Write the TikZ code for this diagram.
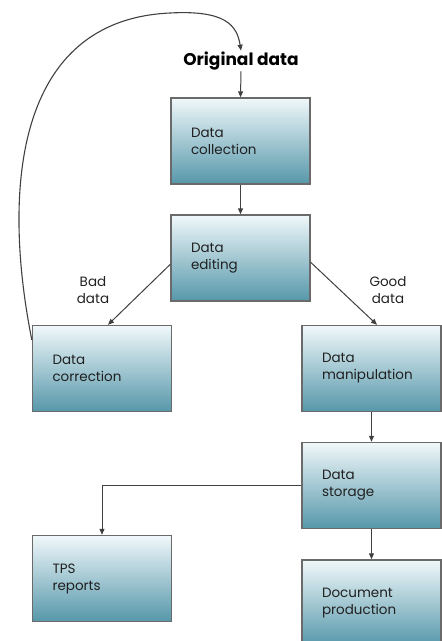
\documentclass[tikz,border=0pt]{standalone}
\usepackage{fontspec}
\setmainfont{Poppins}
\usetikzlibrary{arrows.meta,calc}
\definecolor{boxtop}{HTML}{F0F8FA}
\definecolor{boxmid}{HTML}{B9DCE4}
\definecolor{boxbot}{HTML}{5697AA}
\definecolor{boxline}{HTML}{6A6A6A}
\definecolor{arrline}{HTML}{404040}
\definecolor{txt}{HTML}{202020}
\tikzset{
  procbox/.style={draw=boxline, line width=1.4pt, top color=boxtop, middle color=boxmid, bottom color=boxbot,
    minimum width=139pt, minimum height=86pt, text width=99pt, inner xsep=20pt,
    align=left, font=\fontsize{13.5}{17}\selectfont, text=txt},
  arr/.style={draw=arrline, line width=1pt, -{Triangle[length=6pt,width=5pt]}},
  lbl/.style={align=center, font=\fontsize{13.5}{17.5}\selectfont, text=txt, inner sep=0pt}
}
\begin{document}
\begin{tikzpicture}[x=1pt,y=-1pt]
\useasboundingbox (0,0) rectangle (442,641);
\clip (0,0) rectangle (442,641);
\node[font=\fontsize{17}{20}\selectfont\bfseries, text=black, inner sep=1pt] (orig) at (241,61) {Original data};
\node[procbox] (coll) at (240.5,141) {Data\\collection};
\node[procbox] (edit) at (240.5,258) {Data\\editing};
\node[procbox] (corr) at (102,368.5) {Data\\correction};
\node[procbox] (manip) at (371.5,368.5) {Data\\manipulation};
\node[procbox] (stor) at (371.5,485.5) {Data\\storage};
\node[procbox] (tps) at (102,578.5) {TPS\\reports};
\node[procbox] (doc) at (371.5,603) {Document\\production};
\node[lbl] (bad) at (93,290) {Bad\\data};
\node[lbl] (good) at (388,290) {Good\\data};
\draw[arr] (orig.south) -- (coll.north);
\draw[arr] (coll.south) -- (edit.north);
\draw[arr] ($(edit.north west)+(0,50)$) -- ($(corr.north)+(6,0)$);
\draw[arr] ($(edit.north east)+(0,48)$) -- ($(manip.north)+(5.5,0)$);
\draw[arr] (manip.south) -- (stor.north);
\draw[arr] (stor.south) -- (doc.north);
\draw[arr] (stor.west) -| (tps.north);
\draw[arr, line width=1.1pt] ($(corr.north west)+(0,15)$) .. controls (2,190) and (15,20) .. (170,13) .. controls (225,10) and (237,25) .. (orig.north);
\end{tikzpicture}
\end{document}
